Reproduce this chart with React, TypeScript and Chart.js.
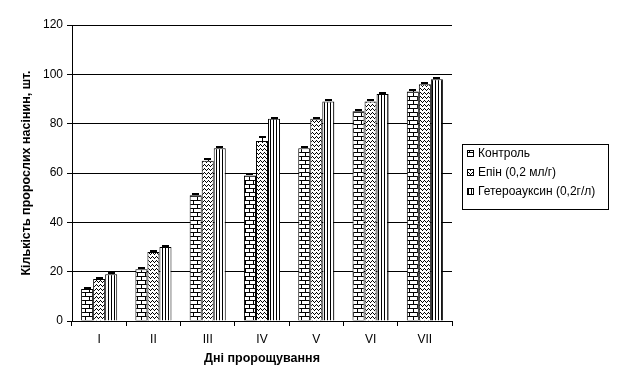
import React, { useEffect, useRef } from "react";
import { Chart, registerables } from "chart.js";

Chart.register(...registerables);

const categories = ["I", "II", "III", "IV", "V", "VI", "VII"];
const seriesNames = ["Контроль", "Епін (0,2 мл/г)", "Гетероауксин (0,2г/л)"];
const controlValues = [13, 21, 51, 59, 70, 85, 93];
const epinValues = [17, 28, 65, 73, 82, 89, 96];
const heteroValues = [19, 30, 70, 82, 89, 92, 98];
const controlErrors = [0.5, 0.5, 0.5, 0.5, 0.5, 0.5, 0.5];
const epinErrors = [0.5, 0.5, 0.5, 1.5, 0.5, 0.5, 0.5];
const heteroErrors = [0.5, 0.5, 0.5, 0.5, 0.5, 0.5, 0.5];
const yMin = 0;
const yMax = 120;
const yStep = 20;
const xTitle = "Дні пророщування";
const yTitle = "Кількість пророслих насінин, шт.";

const FONT = "'Liberation Sans', Arial, sans-serif";

type PatternKind = "brick" | "zigzag" | "stripes";

function makePattern(target: CanvasRenderingContext2D, kind: PatternKind): CanvasPattern | string {
  const c = document.createElement("canvas");
  const ctx = c.getContext("2d");
  if (!ctx) return "#fff";
  if (kind === "brick") {
    c.width = 8;
    c.height = 8;
    ctx.fillStyle = "#fff";
    ctx.fillRect(0, 0, 8, 8);
    ctx.fillStyle = "#000";
    ctx.fillRect(0, 0, 8, 1);
    ctx.fillRect(0, 4, 8, 1);
    ctx.fillRect(1, 1, 1, 3);
    ctx.fillRect(5, 5, 1, 3);
  } else if (kind === "zigzag") {
    c.width = 4;
    c.height = 4;
    ctx.fillStyle = "#fff";
    ctx.fillRect(0, 0, 4, 4);
    ctx.fillStyle = "#000";
    ctx.fillRect(0, 0, 1, 1);
    ctx.fillRect(1, 1, 1, 1);
    ctx.fillRect(2, 2, 1, 1);
    ctx.fillRect(3, 1, 1, 1);
  } else {
    c.width = 3;
    c.height = 1;
    ctx.fillStyle = "#fff";
    ctx.fillRect(0, 0, 3, 1);
    ctx.fillStyle = "#000";
    ctx.fillRect(0, 0, 1, 1);
  }
  return target.createPattern(c, "repeat") || "#fff";
}

export default function App() {
  const ref = useRef<HTMLCanvasElement | null>(null);

  useEffect(() => {
    const canvas = ref.current;
    if (!canvas) return;
    const ctx0 = canvas.getContext("2d");
    if (!ctx0) return;
    const patterns = [
      makePattern(ctx0, "brick"),
      makePattern(ctx0, "zigzag"),
      makePattern(ctx0, "stripes"),
    ];
    const values = [controlValues, epinValues, heteroValues];
    const errors = [controlErrors, epinErrors, heteroErrors];

    const decor = {
      id: "decor",
      afterDatasetsDraw(chart: any) {
        const ctx = chart.ctx as CanvasRenderingContext2D;
        const y = chart.scales.y;
        ctx.save();
        ctx.fillStyle = "#000";
        chart.data.datasets.forEach((ds: any, i: number) => {
          const meta = chart.getDatasetMeta(i);
          meta.data.forEach((bar: any, j: number) => {
            const v = ds.data[j] as number;
            const e = errors[i][j];
            const top = Math.round(y.getPixelForValue(v + e));
            const w = Math.round(bar.width * 0.55);
            const x0 = Math.round(bar.x - w / 2);
            ctx.fillRect(x0, top - 1, w, 2);
            ctx.fillRect(Math.round(bar.x), top, 1, Math.max(0, Math.round(bar.y) - top));
          });
        });
        ctx.restore();
      },
      afterDraw(chart: any) {
        const ctx = chart.ctx as CanvasRenderingContext2D;
        const area = chart.chartArea;
        ctx.save();
        ctx.fillStyle = "#000";
        ctx.font = `bold 12.5px ${FONT}`;
        ctx.textAlign = "center";
        ctx.textBaseline = "middle";
        ctx.fillText(xTitle, (area.left + area.right) / 2, 359);
        ctx.translate(26.5, (area.top + area.bottom) / 2);
        ctx.rotate(-Math.PI / 2);
        ctx.fillText(yTitle, 0, 0);
        ctx.restore();

        // legend
        ctx.save();
        ctx.strokeStyle = "#000";
        ctx.lineWidth = 1;
        ctx.strokeRect(462.5, 144.5, 146, 65);
        ctx.font = `12px ${FONT}`;
        ctx.textAlign = "left";
        ctx.textBaseline = "middle";
        const ys = [153, 172, 191];
        seriesNames.forEach((name, i) => {
          ctx.fillStyle = patterns[i] as any;
          ctx.fillRect(467, ys[i] - 3, 7, 7);
          ctx.strokeRect(467.5, ys[i] - 2.5, 6, 6);
          ctx.fillStyle = "#000";
          ctx.fillText(name, 478, ys[i] + 0.5);
        });
        ctx.restore();
      },
    };

    const chart = new Chart(canvas, {
      type: "bar",
      data: {
        labels: categories,
        datasets: values.map((vals, i) => ({
          label: seriesNames[i],
          data: vals,
          backgroundColor: patterns[i] as any,
          borderColor: "#000",
          borderWidth: 1,
          borderSkipped: "bottom",
          categoryPercentage: 0.665,
          barPercentage: 1,
        })),
      },
      options: {
        responsive: false,
        animation: false,
        devicePixelRatio: 1,
        layout: { padding: { top: 25, right: 167, left: 0, bottom: 0 } },
        plugins: {
          legend: { display: false },
          tooltip: { enabled: false },
        },
        scales: {
          x: {
            grid: {
              display: true,
              drawOnChartArea: false,
              drawTicks: true,
              offset: true,
              tickLength: 5,
              color: "#000",
            },
            border: { display: true, color: "#000" },
            ticks: { color: "#000", font: { family: FONT, size: 12 }, padding: 6 },
            afterFit: (s: any) => {
              s.height = 66;
            },
          },
          y: {
            min: yMin,
            max: yMax,
            ticks: {
              stepSize: yStep,
              color: "#000",
              font: { family: FONT, size: 12 },
              padding: 4,
            },
            grid: { color: "#000", lineWidth: 1, tickLength: 5, drawTicks: true },
            border: { display: true, color: "#000" },
            afterFit: (s: any) => {
              s.width = 72;
            },
          },
        },
      },
      plugins: [decor],
    });
    return () => chart.destroy();
  }, []);

  return (
    <div style={{ position: "absolute", left: 0, top: 0, width: 619, height: 387, background: "#fff" }}>
      <canvas ref={ref} width={619} height={387} style={{ display: "block" }} />
    </div>
  );
}
